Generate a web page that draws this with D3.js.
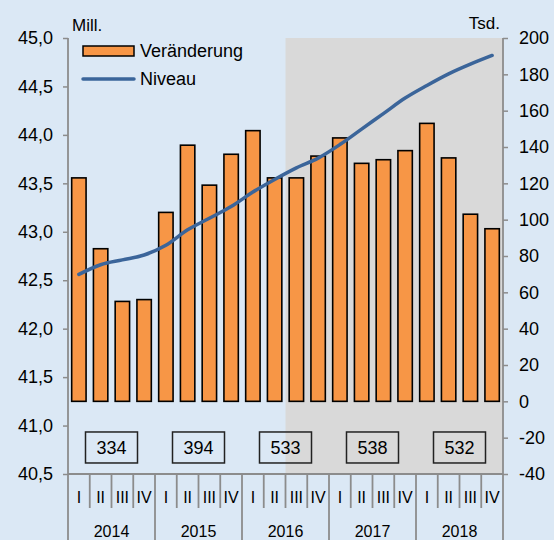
<!DOCTYPE html>
<html><head><meta charset="utf-8">
<script src="https://cdn.jsdelivr.net/npm/d3@7"></script>
<style>
body{margin:0;background:#DBE8F5;}
svg{display:block;font-family:"Liberation Sans",Arial,sans-serif;}
</style>
</head><body>
<svg id="c" width="554" height="540"></svg>
<script>
// ---- data ----
const years = ["2014","2015","2016","2017","2018"];
const quarterNames = ["I","II","III","IV"];
const changes = [123,84,55,56,104,141,119,136,149,123,123,135,145,131,133,138,153,134,103,95]; // Tsd.
const level = [42.56,42.66,42.71,42.76,42.86,43.02,43.14,43.26,43.41,43.54,43.66,43.76,43.90,44.06,44.22,44.38,44.51,44.63,44.73,44.82]; // Mill.
const yearTotals = [334,394,533,538,532];
const leftTicks = [40.5,41.0,41.5,42.0,42.5,43.0,43.5,44.0,44.5,45.0];
const rightTicks = [-40,-20,0,20,40,60,80,100,120,140,160,180,200];
const shadeFrom = "2016-III";
const boxLevel = -25.4; // position of year total boxes on right scale

// ---- layout ----
const L = 68, R = 503, T = 38, B = 474;
const svg = d3.select("#c");
const cats = years.flatMap(y => quarterNames.map(q => y + "-" + q));
const pi = 0.338;
const x = d3.scaleBand().domain(cats).range([L, R]).paddingInner(pi).paddingOuter(pi / 2);
const step = x.step(), bw = x.bandwidth();
const bandStart = c => x(c) - (step - bw) / 2;
const yL = d3.scaleLinear().domain([40.5, 45]).range([B, T]);
const yR = d3.scaleLinear().domain([-40, 200]).range([B, T]);

const axisCol = "#8c8c8c";

// shaded forecast region
svg.append("rect")
  .attr("x", bandStart(shadeFrom)).attr("y", T)
  .attr("width", R - bandStart(shadeFrom)).attr("height", B - T)
  .attr("fill", "#D9D9D9");

// bars
svg.append("g").selectAll("rect").data(changes).join("rect")
  .attr("x", (d, i) => x(cats[i]))
  .attr("y", d => yR(d))
  .attr("width", bw)
  .attr("height", d => yR(0) - yR(d))
  .attr("fill", "#F79646")
  .attr("stroke", "#000").attr("stroke-width", 1.6);

// line
const line = d3.line().x((d, i) => x(cats[i]) + bw / 2).y(d => yL(d)).curve(d3.curveMonotoneX);
svg.append("path").datum(level).attr("d", line)
  .attr("fill", "none").attr("stroke", "#3B659A").attr("stroke-width", 3.5)
  .attr("stroke-linecap", "round");

// year total boxes
const yearCenter = i => bandStart(cats[i * 4]) + step * 2;
const bx = svg.append("g").selectAll("g").data(yearTotals).join("g");
bx.append("rect")
  .attr("x", (d, i) => yearCenter(i) - 26).attr("y", yR(boxLevel) - 15.5)
  .attr("width", 52).attr("height", 31)
  .attr("fill", "none").attr("stroke", "#222").attr("stroke-width", 1.5);
bx.append("text")
  .attr("x", (d, i) => yearCenter(i)).attr("y", yR(boxLevel))
  .attr("dy", "0.35em").attr("text-anchor", "middle")
  .attr("font-size", 18).text(d => d);

// left axis
const fmt = d => d3.format(".1f")(d).replace(".", ",");
const gL = svg.append("g").attr("transform", `translate(${L},0)`)
  .call(d3.axisLeft(yL).tickValues(leftTicks).tickFormat(fmt).tickSize(5).tickSizeOuter(0).tickPadding(10));
gL.select(".domain").remove();
gL.selectAll("line").attr("stroke", axisCol).attr("stroke-width", 1.5);
gL.selectAll("text").attr("font-size", 18).attr("fill", "#000");

// right axis
const gR = svg.append("g").attr("transform", `translate(${R},0)`)
  .call(d3.axisRight(yR).tickValues(rightTicks).tickFormat(d => String(d)).tickSize(5).tickSizeOuter(0).tickPadding(11));
gR.select(".domain").remove();
gR.selectAll("line").attr("stroke", axisCol).attr("stroke-width", 1.5);
gR.selectAll("text").attr("font-size", 18).attr("fill", "#000");

// vertical axis lines
svg.append("line").attr("x1", L).attr("x2", L).attr("y1", T).attr("y2", 540)
  .attr("stroke", axisCol).attr("stroke-width", 1.8);
svg.append("line").attr("x1", R).attr("x2", R).attr("y1", T).attr("y2", 540)
  .attr("stroke", axisCol).attr("stroke-width", 1.8);
// bottom axis line
svg.append("line").attr("x1", L).attr("x2", R).attr("y1", B).attr("y2", B)
  .attr("stroke", axisCol).attr("stroke-width", 2);

// quarter separators
const seps = d3.range(1, cats.length);
svg.append("g").selectAll("line").data(seps).join("line")
  .attr("x1", i => bandStart(cats[i])).attr("x2", i => bandStart(cats[i]))
  .attr("y1", B).attr("y2", i => i % 4 === 0 ? 540 : 508)
  .attr("stroke", axisCol).attr("stroke-width", 1.8);

// quarter labels
svg.append("g").selectAll("text").data(cats).join("text")
  .attr("x", c => x(c) + bw / 2).attr("y", 497).attr("dy", "0.35em")
  .attr("text-anchor", "middle").attr("font-size", 16)
  .text((c, i) => quarterNames[i % 4]);

// year labels
svg.append("g").selectAll("text").data(years).join("text")
  .attr("x", (d, i) => yearCenter(i)).attr("y", 531).attr("dy", "0.35em")
  .attr("text-anchor", "middle").attr("font-size", 16).text(d => d);

// unit labels
svg.append("text").attr("x", 72).attr("y", 31).attr("font-size", 17).text("Mill.");
svg.append("text").attr("x", 500).attr("y", 29).attr("text-anchor", "end").attr("font-size", 17).text("Tsd.");

// legend
svg.append("rect").attr("x", 83).attr("y", 46).attr("width", 51).attr("height", 10)
  .attr("fill", "#F79646").attr("stroke", "#000").attr("stroke-width", 1.5);
svg.append("text").attr("x", 140).attr("y", 51).attr("dy", "0.35em").attr("font-size", 18).text("Veränderung");
svg.append("line").attr("x1", 83).attr("x2", 134).attr("y1", 79).attr("y2", 79)
  .attr("stroke", "#3B659A").attr("stroke-width", 3.5).attr("stroke-linecap", "round");
svg.append("text").attr("x", 140).attr("y", 79).attr("dy", "0.35em").attr("font-size", 18).text("Niveau");
</script>
</body></html>
